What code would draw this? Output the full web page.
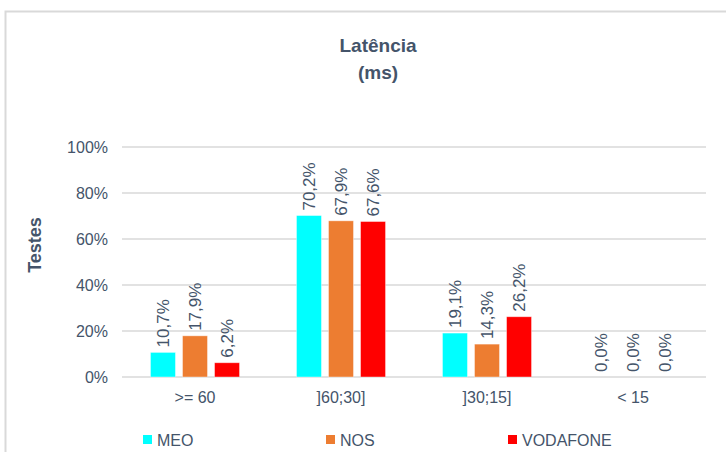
<!DOCTYPE html>
<html>
<head>
<meta charset="utf-8">
<script src="https://cdn.jsdelivr.net/npm/d3@7"></script>
<style>
  body { margin: 0; background: #fff; }
  svg text { font-family: "Liberation Sans Narrow", "Arial Narrow", "Liberation Sans", sans-serif; fill: #44546A; }
</style>
</head>
<body>
<div id="chart"></div>
<script>
const categories = [">= 60", "]60;30]", "]30;15]", "< 15"];
const series = ["MEO", "NOS", "VODAFONE"];
const meo = [10.7, 70.2, 19.1, 0.0];
const nos = [17.9, 67.9, 14.3, 0.0];
const vodafone = [6.2, 67.6, 26.2, 0.0];
const yTicks = [0, 20, 40, 60, 80, 100];

const colors = {
  MEO: "#00FFFF",
  NOS: "#ED7D31",
  VODAFONE: "#FF0000",
};

const values = { MEO: meo, NOS: nos, VODAFONE: vodafone };

const width = 726;
const height = 452;
const margin = { top: 147, right: 20, bottom: 75, left: 122 };

const svg = d3
  .select("#chart")
  .append("svg")
  .attr("width", width)
  .attr("height", height);

// outer frame
svg
  .append("path")
  .attr("d", `M5.5,${height} V11.5 H${width}`)
  .attr("fill", "none")
  .attr("stroke", "#d9d9d9")
  .attr("stroke-width", 2);

const x = d3
  .scaleBand()
  .domain(categories)
  .range([margin.left, width - margin.right])
  .paddingInner(0.39)
  .paddingOuter(0.195);

const xInner = d3
  .scaleBand()
  .domain(series)
  .range([0, x.bandwidth()])
  .paddingInner(0.22);

const y = d3
  .scaleLinear()
  .domain([0, 100])
  .range([377, 147]);

// gridlines
svg
  .append("g")
  .selectAll("line")
  .data(yTicks)
  .join("line")
  .attr("x1", margin.left)
  .attr("x2", 706)
  .attr("y1", (d) => y(d))
  .attr("y2", (d) => y(d))
  .attr("stroke", "#d9d9d9")
  .attr("stroke-width", 1.5);

// y tick labels
svg
  .append("g")
  .selectAll("text")
  .data(yTicks)
  .join("text")
  .attr("x", 108)
  .attr("y", (d) => y(d))
  .attr("dy", "0.35em")
  .attr("text-anchor", "end")
  .style("font-size", "16px")
  .text((d) => d + "%");

// x category labels
svg
  .append("g")
  .selectAll("text")
  .data(categories)
  .join("text")
  .attr("x", (d) => x(d) + x.bandwidth() / 2)
  .attr("y", 397)
  .attr("dy", "0.35em")
  .attr("text-anchor", "middle")
  .style("font-size", "16px")
  .text((d) => d);

// bars
const groups = svg
  .append("g")
  .selectAll("g")
  .data(categories)
  .join("g")
  .attr("transform", (d) => `translate(${x(d)},0)`);

const barData = (c, i) =>
  series.map((s) => ({ cat: c, s: s, v: values[s][i] }));

groups
  .selectAll("rect")
  .data((d, i) => barData(d, i))
  .join("rect")
  .attr("x", (d) => xInner(d.s))
  .attr("y", (d) => y(d.v))
  .attr("width", xInner.bandwidth())
  .attr("height", (d) => y(0) - y(d.v))
  .attr("fill", (d) => colors[d.s])
  .attr("stroke", "#fff")
  .attr("stroke-opacity", 0.5)
  .attr("stroke-width", 0.8);

// value labels, rotated
groups
  .selectAll("text.val")
  .data((d, i) => barData(d, i))
  .join("text")
  .attr("class", "val")
  .attr("transform", (d) => {
    const cx = xInner(d.s) + xInner.bandwidth() / 2;
    return `translate(${cx + 6},${y(d.v) - 5}) rotate(-90)`;
  })
  .attr("text-anchor", "start")
  .style("font-size", "17px")
  .text((d) => d.v.toFixed(1).replace(".", ",") + "%");

// y axis title
svg
  .append("text")
  .attr("transform", `translate(41,245) rotate(-90)`)
  .attr("text-anchor", "middle")
  .style("font-size", "18px")
  .style("font-weight", "bold")
  .text("Testes");

// chart title
const title = svg
  .append("text")
  .attr("x", 378)
  .attr("y", 52)
  .attr("text-anchor", "middle")
  .style("font-size", "19px")
  .style("font-weight", "bold");
title.append("tspan").attr("x", 378).text("Latência");
title.append("tspan").attr("x", 378).attr("dy", 27).text("(ms)");

// legend
const legendX = [143, 326, 508];
const legend = svg
  .append("g")
  .selectAll("g")
  .data(series)
  .join("g")
  .attr("transform", (d, i) => `translate(${legendX[i]},440)`);

legend
  .append("rect")
  .attr("x", 0)
  .attr("y", -5)
  .attr("width", 9)
  .attr("height", 9)
  .attr("fill", (d) => colors[d]);

legend
  .append("text")
  .attr("x", 14)
  .attr("y", 0)
  .attr("dy", "0.35em")
  .style("font-size", "16px")
  .text((d) => d);
</script>
</body>
</html>
